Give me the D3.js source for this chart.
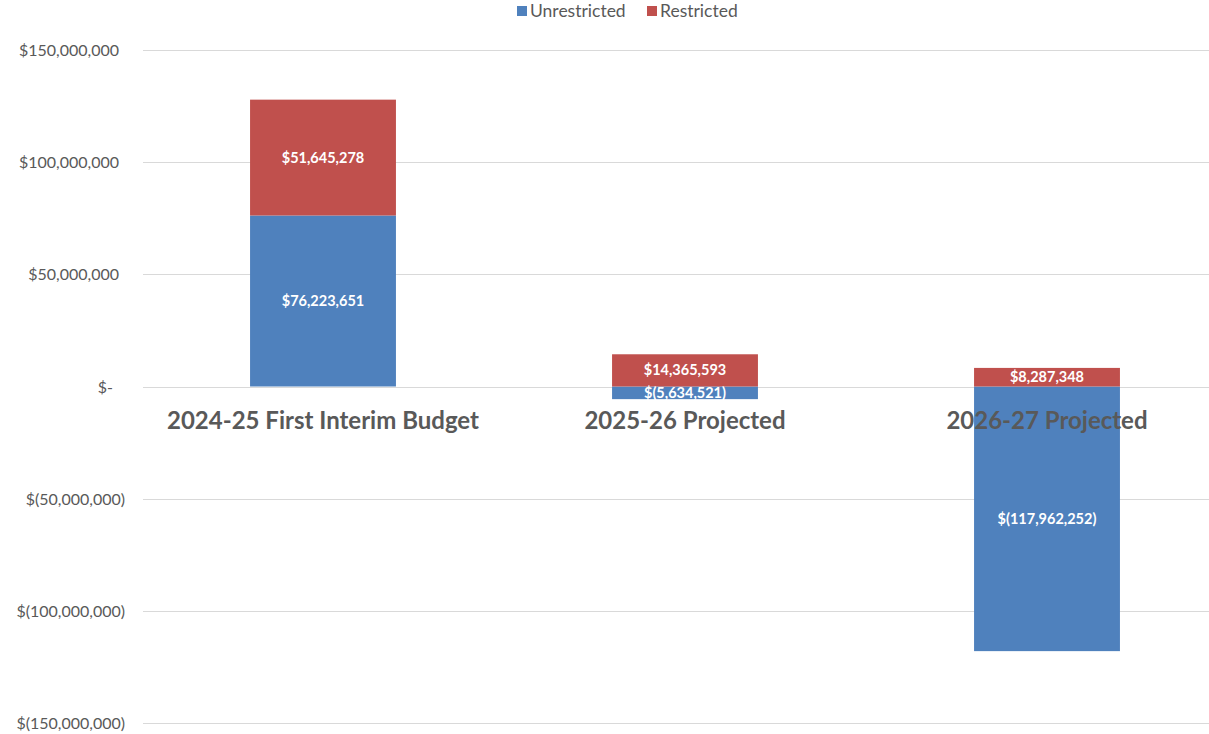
<!DOCTYPE html>
<html>
<head>
<meta charset="utf-8">
<script src="https://cdn.jsdelivr.net/npm/d3@7"></script>
<style>
  html, body { margin: 0; padding: 0; background: #fff; }
  svg { display: block; }
</style>
</head>
<body>
<svg id="chart" width="1209" height="734"></svg>
<script>
// Fund balance by year, split into unrestricted and restricted components
const categories = ["2024-25 First Interim Budget", "2025-26 Projected", "2026-27 Projected"];
const seriesNames = ["Unrestricted", "Restricted"];
const unrestricted = [76223651, -5634521, -117962252];
const restricted = [51645278, 14365593, 8287348];
const yTicks = [150000000, 100000000, 50000000, 0, -50000000, -100000000, -150000000];

const colors = { Unrestricted: "#4F81BD", Restricted: "#C0504D" };
const textGrey = "#595959";
const fontFamily = "Lato, 'Open Sans', sans-serif";

const width = 1209, height = 734;
const svg = d3.select("#chart");

const rows = categories.map((c, i) => ({ category: c, Unrestricted: unrestricted[i], Restricted: restricted[i] }));

const x = d3.scaleBand()
  .domain(categories)
  .range([142, 1228])
  .paddingInner(0.597)
  .paddingOuter(0.2985);

const y = d3.scaleLinear()
  .domain([-150000000, 150000000])
  .range([723, 50]);

const num = d3.format(",");
const money = v => v === 0 ? "$-" : (v > 0 ? "$" + num(v) : "$(" + num(-v) + ")");

// Gridlines
svg.append("g")
  .selectAll("line")
  .data(yTicks)
  .join("line")
  .attr("x1", 143)
  .attr("x2", 1228)
  .attr("y1", d => Math.round(y(d)) + 0.5)
  .attr("y2", d => Math.round(y(d)) + 0.5)
  .attr("stroke", "#d9d9d9")
  .attr("stroke-width", 1);

// Y axis labels (accounting style: positives leave room for the closing parenthesis)
const yAxis = d3.axisLeft(y).tickValues(yTicks).tickSize(0).tickFormat(money);
const yAxisG = svg.append("g").attr("transform", "translate(125,0)").call(yAxis);
yAxisG.select(".domain").remove();
yAxisG.selectAll("text")
  .attr("x", d => d < 0 ? 0 : (d === 0 ? -12 : -6))
  .attr("dy", "0.35em")
  .attr("fill", textGrey)
  .style("font-family", fontFamily)
  .style("font-size", "16px");

// Stacked bars, positives and negatives stacked away from zero
const stacked = d3.stack()
  .keys(seriesNames)
  .offset(d3.stackOffsetDiverging)(rows);

const layers = svg.append("g")
  .selectAll("g")
  .data(stacked)
  .join("g")
  .attr("fill", d => colors[d.key]);

layers.selectAll("rect")
  .data(d => d.map(p => ({ key: d.key, p })))
  .join("rect")
  .attr("x", d => x(d.p.data.category))
  .attr("width", x.bandwidth())
  .attr("y", d => y(Math.max(d.p[0], d.p[1])))
  .attr("height", d => Math.abs(y(d.p[0]) - y(d.p[1])));

// Category labels sit just below the zero line
svg.append("g")
  .selectAll("text")
  .data(categories)
  .join("text")
  .attr("x", d => x(d) + x.bandwidth() / 2)
  .attr("y", 421)
  .attr("dy", "0.35em")
  .attr("text-anchor", "middle")
  .attr("fill", textGrey)
  .style("font-family", fontFamily)
  .style("font-weight", "bold")
  .style("font-size", "24px")
  .text(d => d);

// Value labels centred in each segment
svg.append("g")
  .selectAll("g")
  .data(stacked)
  .join("g")
  .selectAll("text")
  .data(d => d.map((p, i) => ({ p, value: d.key === "Unrestricted" ? unrestricted[i] : restricted[i] })))
  .join("text")
  .attr("x", d => x(d.p.data.category) + x.bandwidth() / 2)
  .attr("y", d => y((d.p[0] + d.p[1]) / 2))
  .attr("dy", "0.35em")
  .attr("text-anchor", "middle")
  .attr("fill", "#ffffff")
  .style("font-family", fontFamily)
  .style("font-weight", "bold")
  .style("font-size", "14.5px")
  .text(d => money(d.value));

// Legend
const legend = svg.append("g").attr("transform", "translate(517,11)");
const legendOffsets = [0, 130];
seriesNames.forEach((name, i) => {
  const g = legend.append("g").attr("transform", `translate(${legendOffsets[i]},0)`);
  g.append("rect").attr("x", 0).attr("y", -5).attr("width", 10).attr("height", 10).attr("fill", colors[name]);
  g.append("text")
    .attr("x", 13)
    .attr("y", 0)
    .attr("dy", "0.35em")
    .attr("fill", textGrey)
    .style("font-family", fontFamily)
    .style("font-size", "17.5px")
    .text(name);
});
</script>
</body>
</html>
